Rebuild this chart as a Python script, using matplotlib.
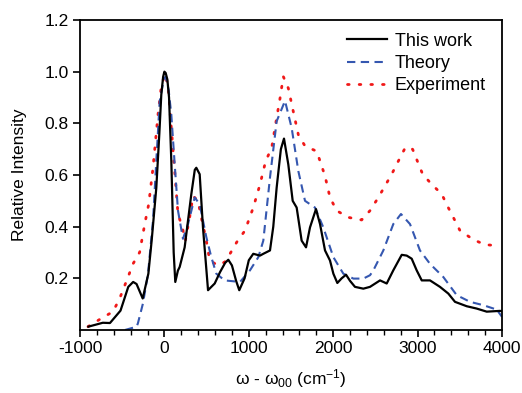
import matplotlib
matplotlib.use("Agg")
import matplotlib.pyplot as plt
from matplotlib.ticker import MultipleLocator

plt.rcParams['font.family'] = ['Liberation Sans', 'DejaVu Sans']
plt.rcParams['mathtext.fontset'] = 'custom'
plt.rcParams['mathtext.rm'] = 'Liberation Sans'
plt.rcParams['mathtext.it'] = 'Liberation Sans'
plt.rcParams['mathtext.default'] = 'regular'

# This work (black solid)
x_work = [-900, -730, -645, -520, -428, -370, -330, -257, -190, -151, -96, -60, -37, -15, 0, 15, 35, 55, 82, 110, 129,
          160, 181, 240, 319, 360, 378, 418, 457, 517, 550, 596, 659, 720, 757, 800, 850, 887, 950,
          1000, 1053, 1133, 1172, 1251, 1290, 1330, 1380, 1417, 1468, 1520, 1567, 1626, 1678, 1725,
          1796, 1844, 1903, 1962, 2002, 2049, 2100, 2152, 2200, 2258, 2357, 2436, 2555, 2634, 2712,
          2812, 2871, 2930, 2989, 3049, 3147, 3265, 3364, 3443, 3582, 3700, 3819, 3976, 4000]
y_work = [0.013, 0.028, 0.027, 0.075, 0.167, 0.186, 0.178, 0.122, 0.218, 0.346, 0.55, 0.76, 0.91, 0.98, 1.0, 0.995, 0.97, 0.90,
          0.654, 0.30, 0.186, 0.23, 0.244, 0.32, 0.526, 0.62, 0.628, 0.603, 0.397, 0.154, 0.165, 0.18,
          0.224, 0.26, 0.272, 0.25, 0.19, 0.154, 0.20, 0.27, 0.295, 0.288, 0.295, 0.308, 0.40, 0.551,
          0.70, 0.741, 0.641, 0.50, 0.474, 0.346, 0.32, 0.397, 0.468, 0.41, 0.308, 0.269, 0.218, 0.182,
          0.20, 0.214, 0.19, 0.167, 0.16, 0.167, 0.192, 0.18, 0.231, 0.291, 0.288, 0.276, 0.231, 0.192,
          0.192, 0.167, 0.141, 0.109, 0.092, 0.083, 0.071, 0.074, 0.073]

# Theory (blue dashed)
x_theory = [-467, -328, -313, -254, -194, -135, -96, -56, -5, 15, 50, 82, 122, 161, 220, 280, 359, 418,
            497, 556, 615, 714, 896, 1014, 1113, 1172, 1251, 1330, 1429, 1508, 1587, 1666, 1784, 1883,
            2002, 2120, 2239, 2357, 2436, 2476, 2594, 2712, 2803, 2910, 3028, 3147, 3305, 3463, 3621,
            3779, 3937, 4000]
y_theory = [0.0, 0.013, 0.027, 0.103, 0.218, 0.423, 0.654, 0.885, 0.974, 0.98, 0.93, 0.833, 0.641,
            0.462, 0.353, 0.41, 0.513, 0.487, 0.359, 0.282, 0.218, 0.192, 0.186, 0.231, 0.282, 0.346,
            0.59, 0.808, 0.887, 0.782, 0.615, 0.50, 0.474, 0.397, 0.282, 0.218, 0.199, 0.199, 0.212,
            0.231, 0.308, 0.41, 0.449, 0.41, 0.308, 0.256, 0.205, 0.135, 0.109, 0.096, 0.079, 0.051]

# Experiment (red dotted)
x_exp = [-905, -747, -609, -530, -431, -372, -293, -233, -186, -135, -76, -37, 5, 43, 82, 122, 161,
         212, 248, 299, 339, 398, 437, 497, 537, 635, 714, 777, 857, 955, 1053, 1133, 1200, 1271,
         1330, 1370, 1409, 1468, 1527, 1587, 1666, 1804, 1844, 1903, 1962, 2041, 2179, 2337, 2436,
         2535, 2614, 2693, 2772, 2843, 2900, 2942, 2997, 3060, 3167, 3286, 3352, 3423, 3502, 3660,
         3799, 3945, 3976]
y_exp = [0.013, 0.045, 0.071, 0.122, 0.205, 0.256, 0.301, 0.41, 0.487, 0.628, 0.833, 0.942, 0.99,
         0.949, 0.782, 0.615, 0.449, 0.397, 0.346, 0.436, 0.519, 0.50, 0.436, 0.346, 0.269, 0.25,
         0.263, 0.295, 0.34, 0.385, 0.474, 0.564, 0.654, 0.705, 0.821, 0.897, 0.981, 0.936, 0.846,
         0.756, 0.712, 0.692, 0.654, 0.596, 0.513, 0.462, 0.436, 0.426, 0.462, 0.513, 0.558, 0.603,
         0.654, 0.699, 0.71, 0.699, 0.654, 0.603, 0.564, 0.526, 0.481, 0.436, 0.385, 0.35, 0.33,
         0.327, 0.325]

x_ticks = [-1000, 0, 1000, 2000, 3000, 4000]
x_ticklabels = ['-1000', '0', '1000', '2000', '3000', '4000']
y_ticks = [0.2, 0.4, 0.6, 0.8, 1.0, 1.2]
y_ticklabels = ['0.2', '0.4', '0.6', '0.8', '1.0', '1.2']

fig = plt.figure(figsize=(5.22, 3.93), dpi=100)
ax = fig.add_axes([80/522, 63/393, 422/522, 310/393])

ax.plot(x_work, y_work, color='black', lw=1.6, label='This work', zorder=3)
ax.plot(x_theory, y_theory, color='#3557b0', lw=1.5, dashes=(4, 2.6), label='Theory', zorder=2)
ax.plot(x_exp, y_exp, color='#f01818', lw=2.0, dashes=(0.6, 3.6), dash_capstyle='round',
        label='Experiment', zorder=1)

ax.set_xlim(-1000, 4000)
ax.set_ylim(0, 1.2)
ax.set_xticks(x_ticks)
ax.set_xticklabels(x_ticklabels)
ax.set_yticks(y_ticks)
ax.set_yticklabels(y_ticklabels)
ax.xaxis.set_minor_locator(MultipleLocator(200))
ax.tick_params(axis='both', which='major', direction='out', length=5, width=1.2, labelsize=12.5,
               top=False, right=False, pad=3)
ax.tick_params(axis='x', which='minor', direction='out', length=3.5, width=1.0, top=False)
for s in ax.spines.values():
    s.set_linewidth(1.3)

ax.set_xlabel(r'ω - ω$_{00}$ (cm$^{-1}$)', fontsize=12.5, labelpad=8)
ax.set_ylabel('Relative Intensity', fontsize=12.5, labelpad=13)

ax.legend(loc='upper right', frameon=False, fontsize=13, handlelength=2.2, handletextpad=0.45,
          labelspacing=0.3, borderaxespad=0.3, bbox_to_anchor=(0.992, 1.0))

fig.savefig('out.png', dpi=100)
